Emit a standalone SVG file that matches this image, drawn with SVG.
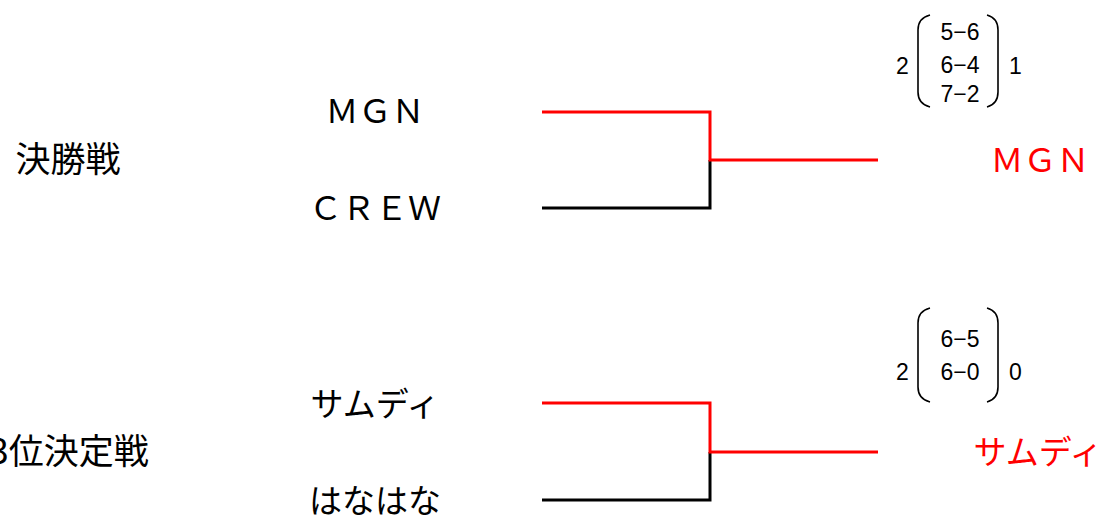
<svg xmlns="http://www.w3.org/2000/svg" width="1108" height="515" viewBox="0 0 1108 515">
<style>
.t{font-family:"Noto Sans CJK JP","Noto Sans",sans-serif;font-size:33px;fill:#000;text-anchor:middle}
.lbl{font-size:35px}
.win{fill:#ff0000}
.s{font-family:"Liberation Sans",Arial,sans-serif;font-size:23px;fill:#000}
.sc{text-anchor:middle}
.r{fill:none;stroke:#ff0000;stroke-width:3}
.k{fill:none;stroke:#000;stroke-width:3}
.p{fill:none;stroke:#000;stroke-width:1.6}
</style>
<rect width="1108" height="515" fill="#fff"/>
<g id="connectors">
<polyline class="k" points="542,208 710,208 710,160"/>
<polyline class="r" points="542,112 710,112 710,160 878,160"/>
<polyline class="k" points="542,500 710,500 710,452"/>
<polyline class="r" points="542,403 710,403 710,452 878,452"/>
</g>
<g id="label-final"><text class="t lbl" x="68" y="172">決勝戦</text></g>
<g id="label-third"><text class="t lbl" x="69" y="464">3位決定戦</text></g>
<g id="team-mgn"><text class="t" x="375" y="123">ＭＧＮ</text></g>
<g id="team-crew"><text class="t" x="375" y="220">ＣＲＥＷ</text></g>
<g id="team-samdi"><text class="t" x="375" y="416">サムディ</text></g>
<g id="team-hana"><text class="t" x="375" y="513">はなはな</text></g>
<g id="winner-final"><text class="t win" x="1040" y="172">ＭＧＮ</text></g>
<g id="winner-third"><text class="t win" x="1038" y="464">サムディ</text></g>
<g id="score-final">
<text class="s" x="896" y="74">2</text>
<text class="s" x="1009" y="74">1</text>
<path class="p" d="M930 15 Q918 18 918 30 L918 92 Q918 104 930 107"/>
<path class="p" d="M987 15 Q998 18 998 30 L998 92 Q998 104 987 107"/>
<text class="s sc" x="960" y="40">5−6</text>
<text class="s sc" x="960" y="73">6−4</text>
<text class="s sc" x="960" y="102">7−2</text>
</g>
<g id="score-third">
<text class="s" x="896" y="380">2</text>
<text class="s" x="1009" y="380">0</text>
<path class="p" d="M930 308 Q918 311 918 323 L918 387 Q918 399 930 402"/>
<path class="p" d="M987 308 Q998 311 998 323 L998 387 Q998 399 987 402"/>
<text class="s sc" x="960" y="347">6−5</text>
<text class="s sc" x="960" y="380">6−0</text>
</g>
</svg>
